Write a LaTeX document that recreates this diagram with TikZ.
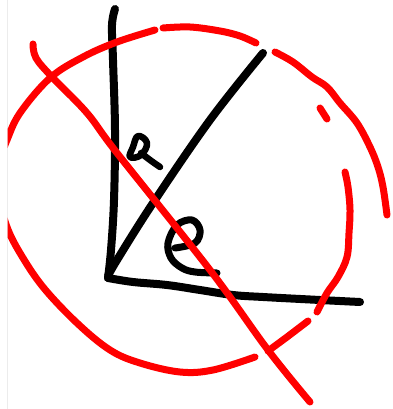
\documentclass[tikz,border=0pt]{standalone}
\begin{document}
\begin{tikzpicture}[x=1pt,y=-1pt,
  ink/.style={line width=8pt,line cap=round,line join=round,black},
  inkthin/.style={line width=6.5pt,line cap=round,line join=round,black},
  redpen/.style={line width=7pt,line cap=round,line join=round,red}]
\useasboundingbox (0,0) rectangle (392,409);
\fill[white] (0,0) rectangle (392,409);
\draw[gray!15,line width=0.6pt] (7,0) -- (7,409);
\begin{scope}
\clip (7.5,0) rectangle (392,409);
\coordinate (corner) at (108,278);
% black axes
\draw[ink] plot[smooth,tension=0.6] coordinates {(115,9) (112,25) (113,60) (115,130) (114,200) (111,250) (108,278)};
\draw[ink] plot[smooth,tension=0.6] coordinates {(108,278) (133,282) (167,285) (200,290) (233,295) (263,297) (320,300) (360,302)};
% black diagonal
\draw[ink] plot[smooth,tension=0.6] coordinates {(108,276) (117,260) (153,203) (210,120) (263,53)};
% letter a
\draw[inkthin] plot[smooth cycle,tension=0.7] coordinates {(138,136) (147,143) (141,155) (130,157) (133,147)};
\draw[inkthin] plot[smooth,tension=0.6] coordinates {(141,153) (150,160) (160,167)};
% letter e
\draw[ink,line width=7pt] plot[smooth,tension=0.6] coordinates {(175,248) (195,243) (200,230) (192,220) (177,225) (168,243) (171,258) (182,268) (195,272) (217,273)};
% red circle pieces
\draw[redpen] plot[smooth,tension=0.6] coordinates {(255,357) (213,370) (180,372) (140,363) (110,350) (77,323) (43,287) (20,253) (7,227) (0,200) (-1,175) (2,155) (7,140) (20,113) (50,78) (83,57) (117,42) (155,30)};
\draw[redpen] plot[smooth,tension=0.6] coordinates {(163,28) (190,27) (220,31) (240,36) (256,43)};
\draw[redpen] plot[smooth,tension=0.6] coordinates {(275,52) (293,62) (312,77) (327,87) (340,103) (357,123) (370,147) (378,167) (383,187) (387,215)};
\draw[redpen] (320,108) -- (327,119);
\draw[redpen] plot[smooth,tension=0.6] coordinates {(345,172) (348,187) (350,210) (349,233) (347,257) (338,277) (327,293) (317,312)};
\draw[redpen] plot[smooth,tension=0.6] coordinates {(308,321) (287,337) (268,351)};
% red diagonal
\draw[redpen] plot[smooth,tension=0.6] coordinates {(33,44) (36,58) (52,77) (87,113) (117,153) (210,270) (268,350) (310,402)};
\end{scope}
\end{tikzpicture}
\end{document}
